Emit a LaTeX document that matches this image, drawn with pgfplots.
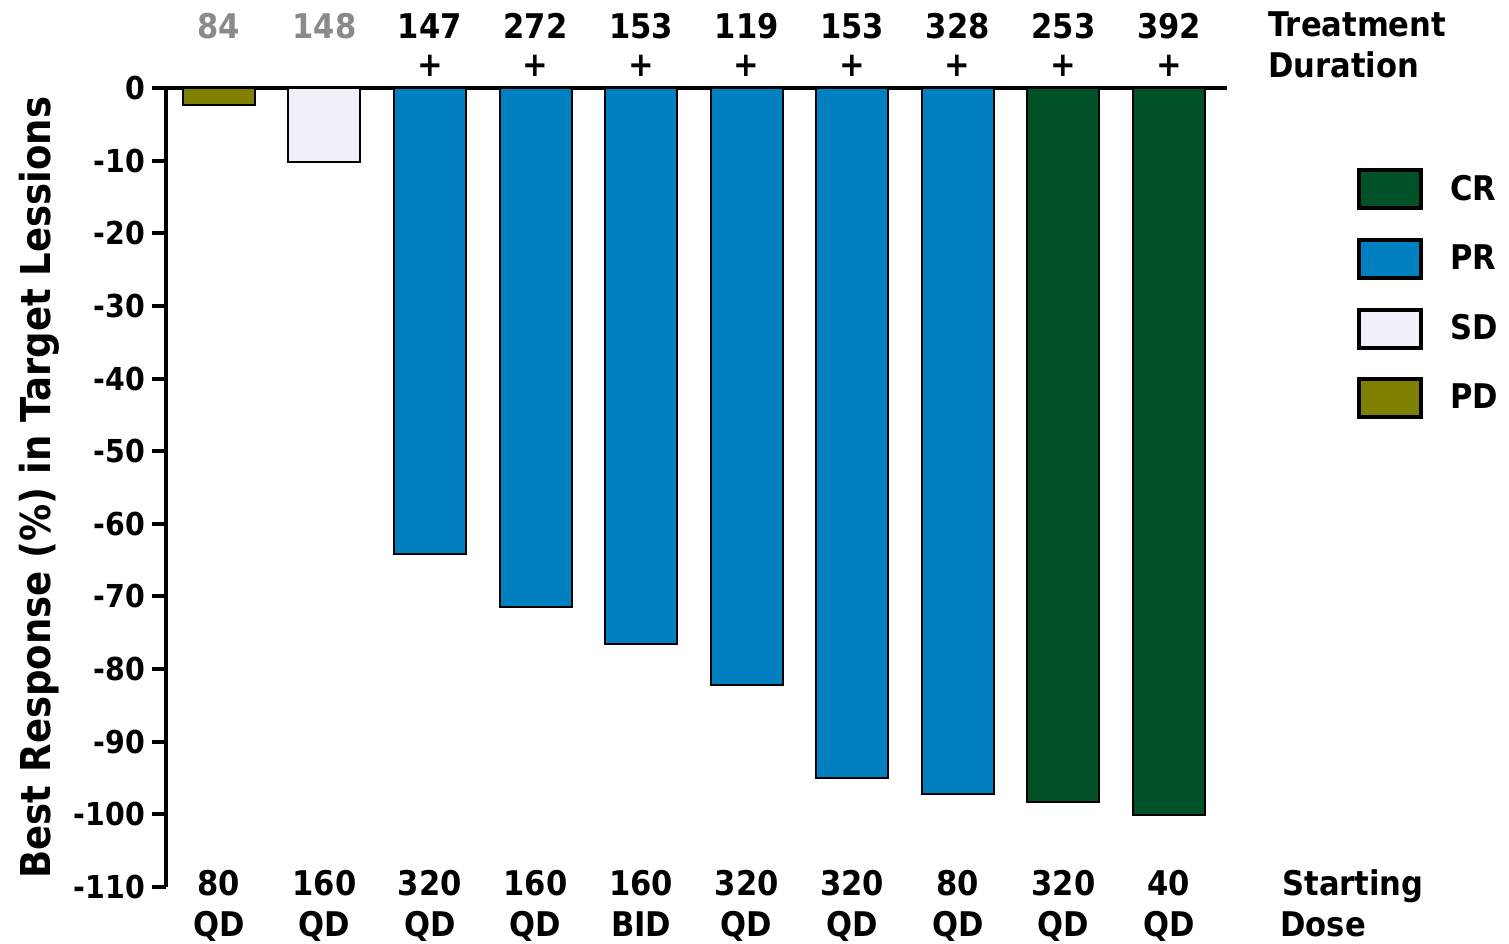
\documentclass[border=0pt]{standalone}
\usepackage{fontspec}
\setmainfont{DejaVu Sans}[FakeStretch=0.9]
\usepackage{pgfplots}
\pgfplotsset{compat=1.18}

\definecolor{crgreen}{HTML}{005128}
\definecolor{prblue}{HTML}{0080C0}
\definecolor{sdlav}{HTML}{F0F0FA}
\definecolor{pdolive}{HTML}{7F7F00}
\definecolor{durgray}{HTML}{8A8A8A}

\newcommand{\tickfont}{\bfseries\fontsize{15.8}{18}\selectfont}
\newcommand{\annfont}{\bfseries\fontsize{17}{20}\selectfont}

\begin{document}
\begin{tikzpicture}
\useasboundingbox (-83pt,-28pt) rectangle (671.5pt,443.5pt);
\begin{axis}[
  at={(0,0)}, anchor=south west,
  scale only axis, width=530.5pt, height=399.5pt,
  xmin=-0.5, xmax=9.55, ymin=-110, ymax=0,
  axis x line*=top, axis y line*=left,
  xtick=\empty, ytick={-110,-100,...,0},
  tick align=outside, major tick length=7pt,
  axis line style={line width=2pt},
  every tick/.style={line width=2pt, black},
  /pgf/number format/assume math mode=true,
  yticklabel style={font=\tickfont},
  ylabel={Best Response (\%) in Target Lessions},
  every axis y label/.style={at={(rel axis cs:0,0.5)}, xshift=-63.5pt,
    rotate=90, anchor=center, font=\bfseries\fontsize{20.6}{24}\selectfont},
  ybar, bar width=36pt, bar shift=0pt,
  clip=false,
  legend image code/.code={\draw[#1, draw=black, line width=2pt] (0pt,-9.5pt) rectangle (31pt,9.5pt);},
  legend style={draw=none, fill=none, at={(rel axis cs:1.1225,0.9)}, anchor=north west,
    font=\annfont, row sep=13.8pt, inner sep=0pt,
    nodes={inner sep=0pt, anchor=west}},
  legend cell align=left,
]
% response categories
\addplot[fill=crgreen, draw=black, line width=1pt] coordinates {(8,-98.3) (9,-100.1)};
\addlegendentry{\hspace{13.5pt}CR}
\addplot[fill=prblue, draw=black, line width=1pt] coordinates {(2,-64.1) (3,-71.4) (4,-76.5) (5,-82.2) (6,-95.0) (7,-97.2)};
\addlegendentry{\hspace{13.5pt}PR}
\addplot[fill=sdlav, draw=black, line width=1pt] coordinates {(1,-10.2)};
\addlegendentry{\hspace{13.5pt}SD}
\addplot[fill=pdolive, draw=black, line width=1pt] coordinates {(0,-2.4)};
\addlegendentry{\hspace{13.5pt}PD}

% treatment duration (days) above each bar
\foreach \i/\d/\c in {0/84/durgray, 1/148/durgray, 2/147/black, 3/272/black, 4/153/black,
                     5/119/black, 6/153/black, 7/328/black, 8/253/black, 9/392/black} {
  \edef\temp{\noexpand\node[font=\noexpand\annfont, text=\c, yshift=31pt] at (axis cs:\i,0) {\d};}
  \temp
}
\foreach \i in {2,...,9} {
  \edef\temp{\noexpand\node[font=\noexpand\annfont, yshift=11pt] at (axis cs:\i,0) {+};}
  \temp
}
% starting dose below each bar
\foreach \i/\a/\b in {0/80/QD, 1/160/QD, 2/320/QD, 3/160/QD, 4/160/BID,
                     5/320/QD, 6/320/QD, 7/80/QD, 8/320/QD, 9/40/QD} {
  \edef\temp{\noexpand\node[font=\noexpand\annfont, anchor=base, yshift=-4pt] at (axis cs:\i,-110) {\a};
    \noexpand\node[font=\noexpand\annfont, anchor=base, yshift=-24.5pt] at (axis cs:\i,-110) {\b};}
  \temp
}
\end{axis}
\node[font=\annfont, anchor=base west, inner sep=0pt] at (551pt,425pt) {Treatment};
\node[font=\annfont, anchor=base west, inner sep=0pt] at (551pt,404.5pt) {Duration};
\node[font=\annfont, anchor=base west, inner sep=0pt] at (558pt,-4pt) {Starting};
\node[font=\annfont, anchor=base west, inner sep=0pt] at (557pt,-24.5pt) {Dose};
\end{tikzpicture}
\end{document}
